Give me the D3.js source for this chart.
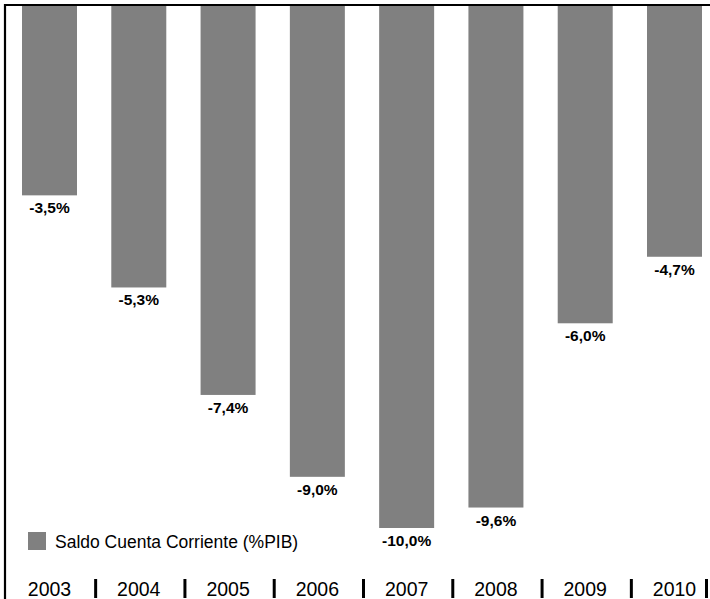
<!DOCTYPE html>
<html>
<head>
<meta charset="utf-8">
<script src="https://cdn.jsdelivr.net/npm/d3@7"></script>
<style>
  html, body { margin: 0; padding: 0; background: #fff; }
  svg { display: block; font-family: "Liberation Sans", Arial, sans-serif; }
</style>
</head>
<body>
<svg id="chart" width="710" height="599"></svg>
<script>
// Current account balance, % of GDP
const years = ["2003", "2004", "2005", "2006", "2007", "2008", "2009", "2010"];
const saldo = [-3.5, -5.3, -7.4, -9.0, -10.0, -9.6, -6.0, -4.7];
const valueLabels = ["-3,5%", "-5,3%", "-7,4%", "-9,0%", "-10,0%", "-9,6%", "-6,0%", "-4,7%"];
const legendLabel = "Saldo Cuenta Corriente (%PIB)";

const svg = d3.select("#chart");
const W = 710, H = 599;

const frameTop = 5, frameLeft = 5;

const x = d3.scaleBand()
  .domain(years)
  .range([4.86, 719.14])
  .paddingInner(0.384)
  .paddingOuter(0.192);

const y = d3.scaleLinear()
  .domain([0.2, -10])
  .range([6, 528]);

// bars hang from the top of the plot area
svg.append("g").selectAll("rect")
  .data(saldo)
  .join("rect")
  .attr("x", (d, i) => x(years[i]))
  .attr("y", y(0.2))
  .attr("width", x.bandwidth())
  .attr("height", d => y(d) - y(0.2))
  .attr("fill", "#808080");

// value labels under each bar
svg.append("g").selectAll("text")
  .data(saldo)
  .join("text")
  .attr("x", (d, i) => x(years[i]) + x.bandwidth() / 2)
  .attr("y", d => y(d) + 18)
  .attr("text-anchor", "middle")
  .attr("font-size", 15.5)
  .attr("font-weight", "bold")
  .attr("fill", "#000")
  .text((d, i) => valueLabels[i]);

// frame: top and left rules
svg.append("line")
  .attr("x1", frameLeft - 1).attr("x2", W)
  .attr("y1", frameTop).attr("y2", frameTop)
  .attr("stroke", "#000").attr("stroke-width", 2.2);
svg.append("line")
  .attr("x1", frameLeft).attr("x2", frameLeft)
  .attr("y1", frameTop - 1).attr("y2", H)
  .attr("stroke", "#000").attr("stroke-width", 2.2);

// legend
const legend = svg.append("g").attr("transform", "translate(28,532)");
legend.append("rect")
  .attr("width", 18).attr("height", 18)
  .attr("fill", "#808080");
legend.append("text")
  .attr("x", 27).attr("y", 16)
  .attr("font-size", 17.5)
  .attr("fill", "#000")
  .text(legendLabel);

// category axis: year labels separated by vertical bars
const axis = svg.append("g");
axis.selectAll("text")
  .data(years)
  .join("text")
  .attr("x", d => x(d) + x.bandwidth() / 2)
  .attr("y", 596)
  .attr("text-anchor", "middle")
  .attr("font-size", 19.5)
  .attr("fill", "#000")
  .text(d => d);

const sepX = d => Math.min(x(d) + x.bandwidth() + x.step() * x.paddingInner() / 2 + 1.5, 706.5);
axis.selectAll("line")
  .data(years)
  .join("line")
  .attr("x1", sepX)
  .attr("x2", sepX)
  .attr("y1", 579).attr("y2", 598)
  .attr("stroke", "#000")
  .attr("stroke-width", 3);
</script>
</body>
</html>
